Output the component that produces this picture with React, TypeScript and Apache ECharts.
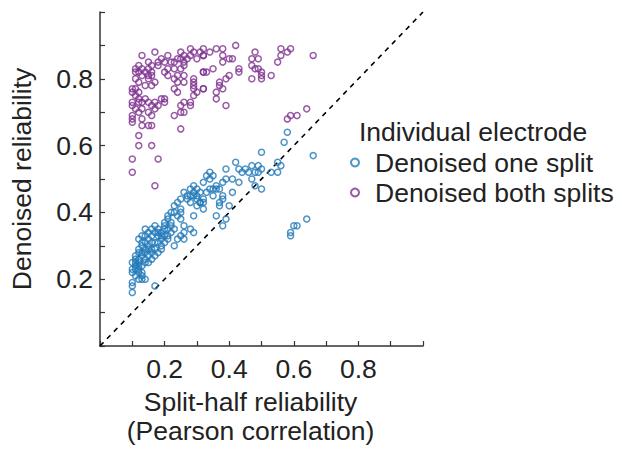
import React, { useEffect, useRef } from "react";
import * as echarts from "echarts";

const legendTitle = "Individual electrode";
const seriesNames = ["Denoised one split", "Denoised both splits"];
const xAxisName = "Split-half reliability\n(Pearson correlation)";
const yAxisName = "Denoised reliability";
const tickLabels = ["0.2", "0.4", "0.6", "0.8"];
const diagonal: [number, number][] = [[0, 0], [1, 1]];

const oneSplit: [number, number][] = [
  [0.58, 0.64], [0.57, 0.61], [0.5, 0.58], [0.66, 0.57], [0.55, 0.55], [0.56, 0.54],
  [0.42, 0.55], [0.43, 0.53], [0.39, 0.53], [0.47, 0.54], [0.49, 0.54], [0.5, 0.53],
  [0.48, 0.52], [0.49, 0.52], [0.53, 0.52], [0.55, 0.52], [0.47, 0.5], [0.48, 0.48],
  [0.5, 0.47], [0.43, 0.49], [0.41, 0.5], [0.39, 0.5], [0.45, 0.53], [0.46, 0.52], [0.44, 0.52],
  [0.35, 0.51], [0.34, 0.5], [0.32, 0.49], [0.38, 0.49], [0.36, 0.48], [0.35, 0.47],
  [0.34, 0.47], [0.37, 0.47], [0.38, 0.45], [0.38, 0.44], [0.37, 0.43], [0.37, 0.42],
  [0.35, 0.45], [0.32, 0.44], [0.32, 0.43], [0.31, 0.43], [0.3, 0.42], [0.32, 0.41],
  [0.4, 0.42], [0.36, 0.39], [0.39, 0.38], [0.38, 0.36], [0.3, 0.45],
  [0.33, 0.46], [0.31, 0.46], [0.29, 0.46], [0.28, 0.45], [0.27, 0.44], [0.26, 0.46],
  [0.25, 0.44], [0.24, 0.43], [0.23, 0.42], [0.22, 0.4], [0.21, 0.39], [0.29, 0.39],
  [0.64, 0.38], [0.61, 0.36], [0.6, 0.36], [0.59, 0.34], [0.59, 0.33],
  [0.27, 0.45], [0.29, 0.45], [0.3, 0.44], [0.31, 0.43], [0.28, 0.43],
  [0.25, 0.41], [0.25, 0.4], [0.25, 0.38], [0.24, 0.39], [0.23, 0.4],
  [0.21, 0.38], [0.22, 0.37], [0.23, 0.35], [0.22, 0.34], [0.21, 0.33], [0.2, 0.36],
  [0.26, 0.36], [0.26, 0.34], [0.25, 0.33], [0.26, 0.32],
  [0.28, 0.35], [0.29, 0.34], [0.24, 0.32], [0.23, 0.3],
  [0.17, 0.36], [0.18, 0.35], [0.18, 0.34], [0.19, 0.33], [0.2, 0.33], [0.19, 0.32],
  [0.18, 0.33], [0.17, 0.34], [0.16, 0.33], [0.15, 0.32], [0.14, 0.33], [0.13, 0.33],
  [0.13, 0.3], [0.12, 0.29], [0.14, 0.29], [0.15, 0.3], [0.16, 0.31], [0.17, 0.31],
  [0.18, 0.31], [0.19, 0.3], [0.17, 0.29], [0.16, 0.28], [0.15, 0.27], [0.14, 0.26],
  [0.13, 0.27], [0.12, 0.26], [0.11, 0.25], [0.11, 0.24], [0.12, 0.24], [0.11, 0.23],
  [0.12, 0.22], [0.13, 0.21], [0.11, 0.21], [0.12, 0.2], [0.13, 0.2], [0.14, 0.2],
  [0.1, 0.19], [0.1, 0.18], [0.1, 0.16], [0.17, 0.18],
  [0.12, 0.32], [0.13, 0.31], [0.14, 0.31], [0.15, 0.29], [0.16, 0.29], [0.14, 0.28],
  [0.13, 0.28], [0.12, 0.28], [0.11, 0.27], [0.12, 0.25], [0.13, 0.24], [0.14, 0.25],
  [0.15, 0.25], [0.16, 0.26], [0.17, 0.27], [0.18, 0.28], [0.19, 0.29], [0.2, 0.31],
  [0.21, 0.32], [0.19, 0.34], [0.2, 0.35], [0.21, 0.35], [0.22, 0.36], [0.2, 0.37],
  [0.15, 0.34], [0.14, 0.35], [0.16, 0.35], [0.1, 0.22], [0.1, 0.23], [0.11, 0.26],
  [0.1, 0.25], [0.13, 0.22], [0.12, 0.23],
  [0.41, 0.46], [0.36, 0.47], [0.34, 0.52], [0.33, 0.51], [0.29, 0.48], [0.28, 0.47], [0.3, 0.47],
];

const bothSplits: [number, number][] = [
  [0.13, 0.87], [0.17, 0.88], [0.15, 0.85], [0.12, 0.84], [0.11, 0.83], [0.11, 0.82],
  [0.13, 0.83], [0.15, 0.83], [0.16, 0.84], [0.18, 0.84], [0.19, 0.86], [0.18, 0.85], [0.2, 0.85],
  [0.21, 0.87], [0.22, 0.85], [0.24, 0.86], [0.25, 0.86], [0.26, 0.87], [0.26, 0.85],
  [0.27, 0.86], [0.28, 0.87], [0.29, 0.88], [0.31, 0.88], [0.32, 0.87],
  [0.2, 0.82], [0.21, 0.83], [0.21, 0.81], [0.23, 0.83], [0.24, 0.81], [0.25, 0.83],
  [0.26, 0.84], [0.26, 0.81],
  [0.16, 0.81], [0.16, 0.82], [0.15, 0.8], [0.14, 0.78], [0.16, 0.78], [0.17, 0.79],
  [0.13, 0.81], [0.11, 0.8], [0.12, 0.82], [0.14, 0.82], [0.15, 0.81], [0.12, 0.79],
  [0.1, 0.77], [0.1, 0.76], [0.11, 0.77], [0.12, 0.76], [0.11, 0.75], [0.12, 0.74],
  [0.1, 0.73], [0.13, 0.73], [0.14, 0.74], [0.15, 0.73], [0.16, 0.72], [0.17, 0.73],
  [0.18, 0.72], [0.19, 0.74],
  [0.1, 0.72], [0.11, 0.71], [0.13, 0.71], [0.12, 0.73], [0.1, 0.69], [0.12, 0.7],
  [0.15, 0.7], [0.17, 0.71], [0.1, 0.68], [0.13, 0.68],
  [0.2, 0.74], [0.23, 0.77], [0.24, 0.76], [0.23, 0.8], [0.24, 0.79], [0.26, 0.79],
  [0.29, 0.8], [0.29, 0.79], [0.32, 0.82], [0.32, 0.77],
  [0.23, 0.69], [0.25, 0.7], [0.25, 0.72], [0.29, 0.75], [0.29, 0.77], [0.28, 0.73],
  [0.25, 0.88], [0.28, 0.89], [0.32, 0.89], [0.34, 0.88], [0.36, 0.89], [0.38, 0.89],
  [0.42, 0.9], [0.48, 0.88], [0.59, 0.89], [0.66, 0.87], [0.56, 0.89], [0.58, 0.88],
  [0.23, 0.85], [0.3, 0.86], [0.32, 0.87], [0.38, 0.87], [0.38, 0.85], [0.4, 0.86],
  [0.41, 0.86], [0.47, 0.86], [0.49, 0.86], [0.47, 0.84], [0.55, 0.85], [0.56, 0.87],
  [0.35, 0.83], [0.33, 0.82], [0.32, 0.82], [0.43, 0.83], [0.43, 0.82], [0.48, 0.83],
  [0.49, 0.83], [0.5, 0.82], [0.5, 0.81], [0.53, 0.81], [0.47, 0.8], [0.5, 0.8],
  [0.4, 0.81], [0.39, 0.8], [0.37, 0.79], [0.37, 0.78], [0.38, 0.77], [0.36, 0.76],
  [0.36, 0.74], [0.39, 0.72], [0.32, 0.77],
  [0.29, 0.78], [0.26, 0.73], [0.28, 0.72], [0.26, 0.7], [0.3, 0.76], [0.25, 0.65],
  [0.2, 0.73], [0.16, 0.69],
  [0.12, 0.63], [0.15, 0.66], [0.1, 0.67], [0.13, 0.66], [0.16, 0.66], [0.12, 0.6],
  [0.16, 0.6], [0.1, 0.56], [0.18, 0.56], [0.1, 0.52], [0.17, 0.48],
  [0.58, 0.68], [0.59, 0.69], [0.61, 0.69], [0.64, 0.71],
];

const FONT = "'Liberation Sans', Arial, Helvetica, sans-serif";
const BLUE = "#1f78b8";
const PURPLE = "#7e2f8e";
const TEXT = "#222222";
const FS = 26.5;

export default function App() {
  const ref = useRef<HTMLDivElement>(null);
  useEffect(() => {
    if (!ref.current) return;
    const chart = echarts.init(ref.current, undefined, { renderer: "svg" });
    const labelFmt = (v: number) => {
      const s = v.toFixed(1);
      return tickLabels.indexOf(s) >= 0 ? s : "";
    };
    const axisCommon = {
      type: "value",
      min: 0,
      max: 1,
      interval: 0.1,
      splitLine: { show: false },
      axisLine: { show: true, lineStyle: { color: "#333", width: 1.5 } },
      axisTick: { show: true, inside: true, length: 5, lineStyle: { color: "#333", width: 1.2 } },
      nameLocation: "middle",
    };
    chart.setOption({
      animation: false,
      backgroundColor: "#ffffff",
      grid: { left: 98, top: 12, right: 199, bottom: 99, containLabel: false },
      xAxis: {
        ...axisCommon,
        name: xAxisName,
        nameGap: 41,
        nameTextStyle: { fontFamily: FONT, fontSize: FS, color: TEXT, lineHeight: 29, padding: [0, 22, 0, 0] },
        axisLabel: { formatter: labelFmt, fontFamily: FONT, fontSize: FS, color: TEXT, margin: 9 },
      },
      yAxis: {
        ...axisCommon,
        name: yAxisName,
        nameGap: 65,
        nameTextStyle: { fontFamily: FONT, fontSize: FS, color: TEXT },
        axisLabel: { formatter: labelFmt, fontFamily: FONT, fontSize: FS, color: TEXT, margin: 7 },
      },
      legend: {
        orient: "vertical",
        left: 345,
        top: 144,
        itemWidth: 30,
        itemHeight: 8,
        itemGap: 3,
        icon: "circle",
        textStyle: { fontFamily: FONT, fontSize: FS, color: TEXT, lineHeight: 26 },
        data: [
          { name: seriesNames[0], itemStyle: { color: "transparent", borderColor: BLUE, borderWidth: 2 } },
          { name: seriesNames[1], itemStyle: { color: "transparent", borderColor: PURPLE, borderWidth: 2 } },
        ],
      },
      graphic: [
        {
          type: "text",
          left: 359,
          top: 118,
          style: { text: legendTitle, fontFamily: FONT, fontSize: FS, fill: TEXT },
        },
      ],
      series: [
        {
          type: "line",
          data: diagonal,
          symbol: "none",
          silent: true,
          lineStyle: { color: "#000", width: 1.6, type: [5, 5] },
          z: 1,
        },
        {
          name: seriesNames[0],
          type: "scatter",
          data: oneSplit,
          symbol: "circle",
          symbolSize: 6,
          itemStyle: { color: "transparent", borderColor: BLUE, borderWidth: 1.5 },
          z: 3,
        },
        {
          name: seriesNames[1],
          type: "scatter",
          data: bothSplits,
          symbol: "circle",
          symbolSize: 6,
          itemStyle: { color: "transparent", borderColor: PURPLE, borderWidth: 1.5 },
          z: 3,
        },
      ],
    });
    return () => chart.dispose();
  }, []);
  return (
    <div
      ref={ref}
      style={{ position: "fixed", left: 0, top: 0, width: 622, height: 450, background: "#fff" }}
    />
  );
}
